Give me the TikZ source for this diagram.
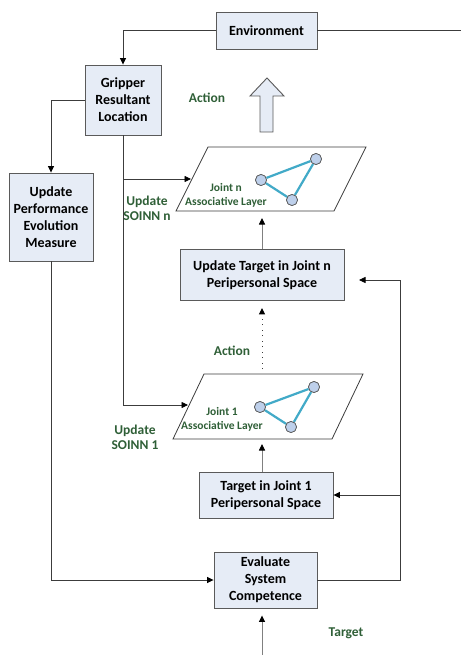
\documentclass[tikz,border=0pt]{standalone}
\usepackage{fontspec}
\setmainfont{Carlito}
\usetikzlibrary{arrows.meta}

\definecolor{boxfill}{RGB}{230,236,246}
\definecolor{boxline}{RGB}{90,90,90}
\definecolor{wire}{RGB}{60,60,60}
\definecolor{softwire}{RGB}{128,128,128}
\definecolor{labelgreen}{RGB}{47,95,55}
\definecolor{linkteal}{RGB}{66,170,200}
\definecolor{unitfill}{RGB}{190,208,235}

\tikzset{
  block/.style={draw=boxline, fill=boxfill, line width=0.9pt, align=center,
    font=\fontsize{14}{17}\selectfont\bfseries, inner sep=0pt},
  glabel/.style={text=labelgreen, align=center, font=\fontsize{13.5}{15}\selectfont\bfseries},
  slabel/.style={text=labelgreen, align=center, font=\fontsize{11.5}{14}\selectfont\bfseries},
  wireline/.style={draw=wire, line width=0.8pt},
  tip/.style={-{Triangle[length=6.5pt,width=6pt,color=black]}},
  plane/.style={draw=wire, line width=0.8pt, fill=white},
  link/.style={draw=linkteal, line width=2.2pt},
  unit/.style={circle, draw=boxline, fill=unitfill, line width=0.7pt, minimum size=11pt, inner sep=0pt},
}

\begin{document}
\begin{tikzpicture}[x=1pt,y=-1pt]
\useasboundingbox (0,0) rectangle (461,655);

% boxes
\node[block, minimum width=101pt, minimum height=37pt] (env) at (266.5,30.5) {Environment};
\node[block, minimum width=76pt, minimum height=70pt] (grip) at (123,100) {Gripper\\Resultant\\Location};
\node[block, minimum width=84pt, minimum height=88pt] (perf) at (51,217) {Update\\Performance\\Evolution\\Measure};
\node[block, minimum width=164pt, minimum height=51pt] (updn) at (262,275) {Update Target in Joint n\\Peripersonal Space};
\node[block, minimum width=134pt, minimum height=46pt] (tgt1) at (266,495) {Target in Joint 1\\Peripersonal Space};
\node[block, minimum width=103pt, minimum height=56pt] (eval) at (265.5,580) {Evaluate\\System\\Competence};

% associative layers (parallelograms)
\draw[plane] (208,147) -- (366,147) -- (334,211) -- (176,211) -- cycle;
\draw[plane] (204,374) -- (363,374) -- (332,439) -- (173,439) -- cycle;
\coordinate (pn-in) at (191,179);
\coordinate (pn-bot) at (262,211);
\coordinate (p1-in) at (188,405);
\coordinate (p1-bot) at (262,439);
\coordinate (p1-top) at (262,369);

% small networks inside each layer
\node[unit] (an) at (261,180) {};
\node[unit] (bn) at (316,159) {};
\node[unit] (cn) at (292,200) {};
\draw[link] (an) -- (bn) -- (cn) -- (an);
\node[unit] at (261,180) {};
\node[unit] at (316,159) {};
\node[unit] at (292,200) {};

\node[unit] (a1) at (260,407) {};
\node[unit] (b1) at (314,387) {};
\node[unit] (c1) at (291,427) {};
\draw[link] (a1) -- (b1) -- (c1) -- (a1);
\node[unit] at (260,407) {};
\node[unit] at (314,387) {};
\node[unit] at (291,427) {};

\node[slabel] (jn) at (226,195) {Joint n\\Associative Layer};
\node[slabel] (j1) at (222,419) {Joint 1\\Associative Layer};

% labels
\node[glabel] (act1) at (207,98) {Action};
\node[glabel] (act2) at (232,351) {Action};
\node[glabel] (soinnn) at (147,208) {Update\\SOINN n};
\node[glabel] (soinn1) at (135,437) {Update\\SOINN 1};
\node[glabel] (target) at (346,633) {Target};

% hollow action arrow
\draw[draw=boxline, fill=boxfill, line width=0.9pt]
  (260,132) -- (260,96) -- (250,96) -- (267,78) -- (284,96) -- (273,96) -- (273,132) -- cycle;

% connectors
\coordinate (envR) at (461,30.5);
\draw[wireline] (env.east) -- (envR);
\draw[wireline, tip] (env.west) -| (grip.north);
\draw[wireline, tip] (grip.west) -| (perf.north);
\draw[wireline, tip] (grip.south) |- (pn-in);
\draw[wireline, tip] (grip.south) |- (p1-in);
\draw[wireline, tip] (perf.south) |- (eval.west);

\coordinate (fbR) at (400,580);
\coordinate (fbN) at (400,280);
\coordinate (fbNend) at (359,280);
\coordinate (fb1) at (400,495);
\draw[wireline] (eval.east) -- (fbR) -- (fbN);
\draw[wireline, tip] (fbN) -- (fbNend);
\draw[wireline, tip] (fb1) -- (tgt1.east);

\draw[draw=softwire, line width=0.9pt, tip, shorten >=7pt] (updn.north -| pn-bot) -- (pn-bot);
\draw[draw=softwire, line width=0.9pt, tip, shorten >=5pt] (tgt1.north -| p1-bot) -- (p1-bot);
\draw[draw=wire, line width=1pt, dash pattern=on 1pt off 4.5pt, tip, shorten >=7pt] (p1-top) -- (updn.south -| p1-top);

\coordinate (tgtIn) at (262,655);
\draw[draw=softwire, line width=0.9pt, tip, shorten >=7pt] (tgtIn) -- (eval.south -| tgtIn);
\end{tikzpicture}
\end{document}
